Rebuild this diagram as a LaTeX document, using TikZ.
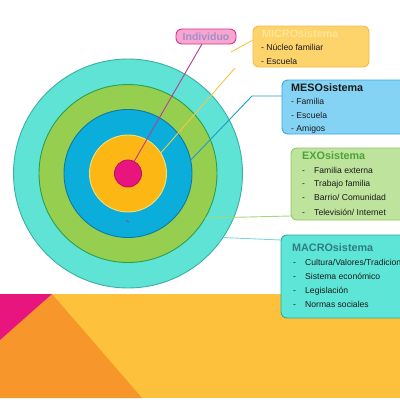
\documentclass[tikz,border=0pt]{standalone}
\usepackage{fontspec}
\setmainfont{Liberation Sans}
\definecolor{bandyellow}{HTML}{FDC13C}
\definecolor{bandorange}{HTML}{F7962A}
\definecolor{bandpink}{HTML}{E8157F}
\definecolor{cmacro}{HTML}{5EE3D4}
\definecolor{cmacroB}{HTML}{3AB0A5}
\definecolor{cexo}{HTML}{96CF4F}
\definecolor{cexoB}{HTML}{2E9E4B}
\definecolor{cmeso}{HTML}{0BAEDA}
\definecolor{cmesoB}{HTML}{1177A3}
\definecolor{cmicro}{HTML}{FDB714}
\definecolor{cmicroB}{HTML}{F3E07A}
\definecolor{cind}{HTML}{E8157F}
\definecolor{cindB}{HTML}{C01065}
\definecolor{bxmicro}{HTML}{FDD36C}
\definecolor{bxmicroB}{HTML}{F5B84A}
\definecolor{bxmicroT}{HTML}{FFE594}
\definecolor{bxmeso}{HTML}{85D3F4}
\definecolor{bxmesoB}{HTML}{39A6DC}
\definecolor{bxexo}{HTML}{BEE39D}
\definecolor{bxexoB}{HTML}{8BC862}
\definecolor{bxexoT}{HTML}{4DA33A}
\definecolor{bxmacro}{HTML}{5DE6D7}
\definecolor{bxmacroB}{HTML}{35A79A}
\definecolor{bxmacroT}{HTML}{2F7D80}
\definecolor{bxind}{HTML}{F7A6D0}
\definecolor{bxindB}{HTML}{D5358F}
\definecolor{bxindT}{HTML}{A18ECB}
\definecolor{lind}{HTML}{B83C96}
\definecolor{ldash}{HTML}{7A4FB0}
\definecolor{lmicro}{HTML}{F6C744}
\definecolor{lmeso}{HTML}{1E9ACA}
\definecolor{lexo}{HTML}{A8D67E}
\definecolor{lmacro}{HTML}{7ED8DB}
\definecolor{txt}{HTML}{1A1A1A}
\begin{document}
\begin{tikzpicture}[x=1pt,y=-1pt,
  ring/.style={circle, inner sep=0pt, outer sep=0pt, line width=0.9pt},
  infobox/.style={rectangle, rounded corners=6pt, inner sep=0pt, outer sep=0pt, line width=0.9pt, anchor=north west},
  ttl/.style={anchor=base west, inner sep=0pt, font=\fontsize{10.8}{12}\selectfont\bfseries},
  itm/.style={anchor=base west, inner sep=0pt, text=txt, font=\fontsize{8.6}{10}\selectfont},
  conn/.style={line width=0.9pt}]
\useasboundingbox (0,0) rectangle (400,400);
\clip (0,0) rectangle (400,400);
% bottom band
\fill[bandyellow] (0,294) rectangle (400,398);
\fill[bandorange] (52,294) -- (142,398) -- (0,398) -- (0,340) -- cycle;
\fill[bandpink] (0,294) -- (52,294) -- (0,340) -- cycle;
% circles
\node[ring, fill=cmacro, draw=cmacroB, minimum size=229pt] (macro) at (128,173.5) {};
\node[ring, fill=cexo, draw=cexoB, minimum size=178pt] (exo) at (128,173.5) {};
\node[ring, fill=cmeso, draw=cmesoB, minimum size=128pt] (meso) at (128,173.5) {};
\node[ring, fill=cmicro, draw=cmicroB, minimum size=77pt] (micro) at (128,173.5) {};
\node[ring, fill=cind, draw=cindB, minimum size=27pt] (ind) at (128,173.5) {};
\draw[ldash, line width=0.9pt] (126,220.5) -- (129,222);
% boxes
\node[infobox, fill=bxind, draw=bxindB, minimum width=60pt, minimum height=15pt, text=bxindT, font=\fontsize{10.5}{11}\selectfont\bfseries] (indbox) at (176,29) {Individuo};
\node[infobox, fill=bxmicro, draw=bxmicroB, minimum width=116pt, minimum height=41pt] (microbox) at (253,26) {};
\node[infobox, fill=bxmeso, draw=bxmesoB, minimum width=125pt, minimum height=54pt] (mesobox) at (282,80) {};
\node[infobox, fill=bxexo, draw=bxexoB, minimum width=115pt, minimum height=72pt] (exobox) at (291,148) {};
\node[infobox, fill=bxmacro, draw=bxmacroB, minimum width=125pt, minimum height=83pt] (macrobox) at (281,235) {};
% texts
\node[ttl, text=bxmicroT] (t1) at (262,37) {MICROsistema};
\node[itm] (t1a) at (261,50.5) {- Núcleo familiar};
\node[itm] (t1b) at (261,64) {- Escuela};
\node[ttl, text=txt] (t2) at (291,91) {MESOsistema};
\node[itm] (t2a) at (291,104) {- Familia};
\node[itm] (t2b) at (291,118) {- Escuela};
\node[itm] (t2c) at (291,131) {- Amigos};
\node[ttl, text=bxexoT] (t3) at (302,159) {EXOsistema};
\foreach \y/\s [count=\i] in {173.5/Familia externa,186.5/Trabajo familia,200.5/Barrio\slash\ Comunidad,215/Televisión\slash\ Internet}{
  \node[itm] (t3d\i) at (302,\y) {-};
  \node[itm] (t3t\i) at (314,\y) {\s};
}
\node[ttl, text=bxmacroT] (t4) at (292,251) {MACROsistema};
\foreach \y/\s [count=\i] in {265/Cultura\slash Valores\slash Tradiciones,279/Sistema económico,293/Legislación,307/Normas sociales}{
  \node[itm] (t4d\i) at (293,\y) {-};
  \node[itm] (t4t\i) at (305,\y) {\s};
}
% connectors
\draw[conn, lind] (ind.63) -- ([xshift=-4pt]indbox.south);
\coordinate (m1) at (235,68);
\coordinate (m2) at (231,52);
\draw[conn, lmicro] (micro.32) -- (m1);
\draw[conn, lmicro] (m2) -- ([yshift=6.5pt]microbox.west);
\coordinate (mesoA) at (252,96);
\draw[conn, lmeso] (meso.12) -- (mesoA) -- (mesoA -| mesobox.west);
\draw[conn, lexo] (exo.-30) -- ([yshift=4pt]exobox.south west);
\draw[conn, lmacro] (macro.-34) -- ([yshift=-5pt]macrobox.north west);
\end{tikzpicture}
\end{document}
